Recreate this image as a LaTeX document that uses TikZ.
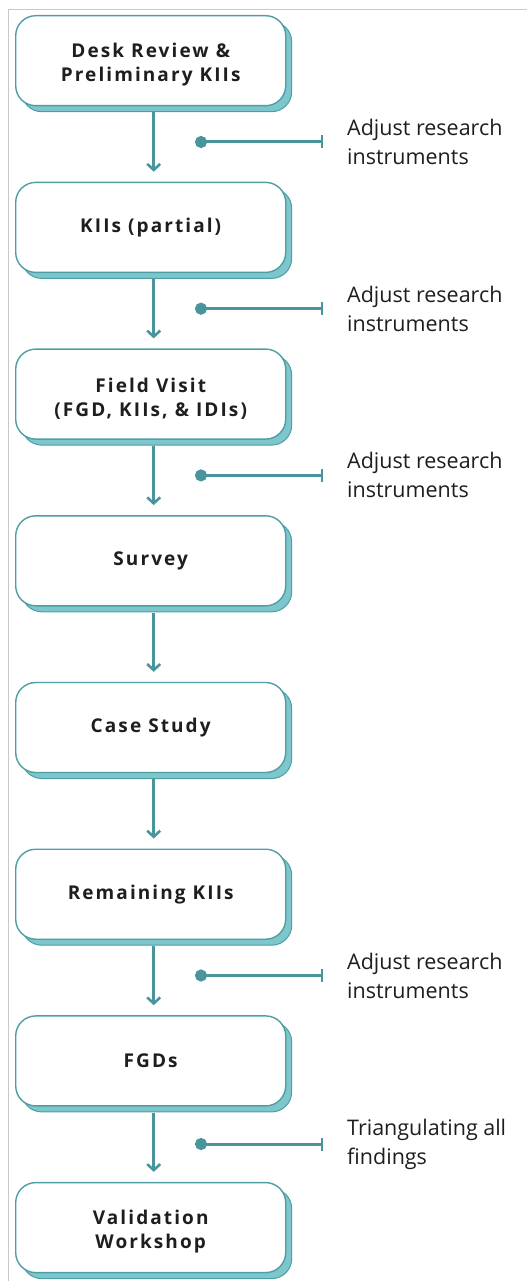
\documentclass[tikz,border=0pt]{standalone}
\usepackage{fontspec}
\setmainfont{Open Sans}
\newfontfamily\boxfont[LetterSpace=11]{Open Sans Bold}
\usetikzlibrary{shadows,arrows.meta}
\definecolor{tealline}{HTML}{4E9EA4}
\definecolor{tealshadow}{HTML}{7DC6CC}
\definecolor{tealarrow}{HTML}{4A959B}
\definecolor{txt}{HTML}{1E1E1E}
\definecolor{frame}{HTML}{C8C8C8}
\newcommand{\downstrut}{\rule{0pt}{23pt}}
\tikzset{
  stepbox/.style={draw=tealline, line width=1.4pt, fill=white, rounded corners=20pt,
    minimum width=270pt, minimum height=90pt, anchor=north west, align=center,
    font=\boxfont\fontsize{19}{24}\selectfont, text=txt,
    copy shadow={shadow xshift=6pt, shadow yshift=-6pt, fill=tealshadow, draw=tealline, line width=1pt}},
  flow/.style={draw=tealarrow, line width=2.8pt, -{Straight Barb[length=6pt,width=13pt,line width=2.6pt]}},
  note/.style={draw=tealarrow, line width=3pt, {Circle[length=12pt,width=12pt]}-{Bar[width=13pt,line width=2pt]}},
  notetext/.style={anchor=west, align=left, text=txt, font=\fontsize{21.5}{29}\selectfont, inner sep=0pt}
}
\begin{document}
\begin{tikzpicture}[x=1pt,y=-1pt]
\useasboundingbox (0,0) rectangle (527,1281);
\draw[frame, line width=1pt] (8,1281) -- (8,10) -- (527,10);
\node[stepbox] (b1) at (15,15) {\downstrut Desk Review \&\\Preliminary KIIs};
\node[stepbox] (b2) at (15,181.7) {KIIs (partial)};
\node[stepbox] (b3) at (15,348.4) {\downstrut Field Visit\\(FGD, KIIs, \& IDIs)};
\node[stepbox] (b4) at (15,515.1) {Survey};
\node[stepbox] (b5) at (15,681.8) {Case Study};
\node[stepbox] (b6) at (15,848.5) {Remaining KIIs};
\node[stepbox] (b7) at (15,1015.2) {FGDs};
\node[stepbox] (b8) at (15,1181.9) {\downstrut Validation\\Workshop};
\foreach \a/\b in {b1/b2,b2/b3,b3/b4,b4/b5,b5/b6,b6/b7,b7/b8}{
  \draw[flow] ([xshift=3pt,yshift=-6pt]\a.south) -- ([xshift=3pt,yshift=10pt]\b.north);
}
\foreach \i/\y/\t in {1/142/{Adjust research\\instruments},2/308.7/{Adjust research\\instruments},3/475.4/{Adjust research\\instruments},6/975.5/{Adjust research\\instruments},7/1144/{Triangulating all\\findings}}{
  \coordinate (s\i) at (195,\y);
  \coordinate (e\i) at (323,\y);
  \draw[note] (s\i) -- (e\i);
  \node[notetext] (n\i) at (347,\y) {\t};
}
\end{tikzpicture}
\end{document}
